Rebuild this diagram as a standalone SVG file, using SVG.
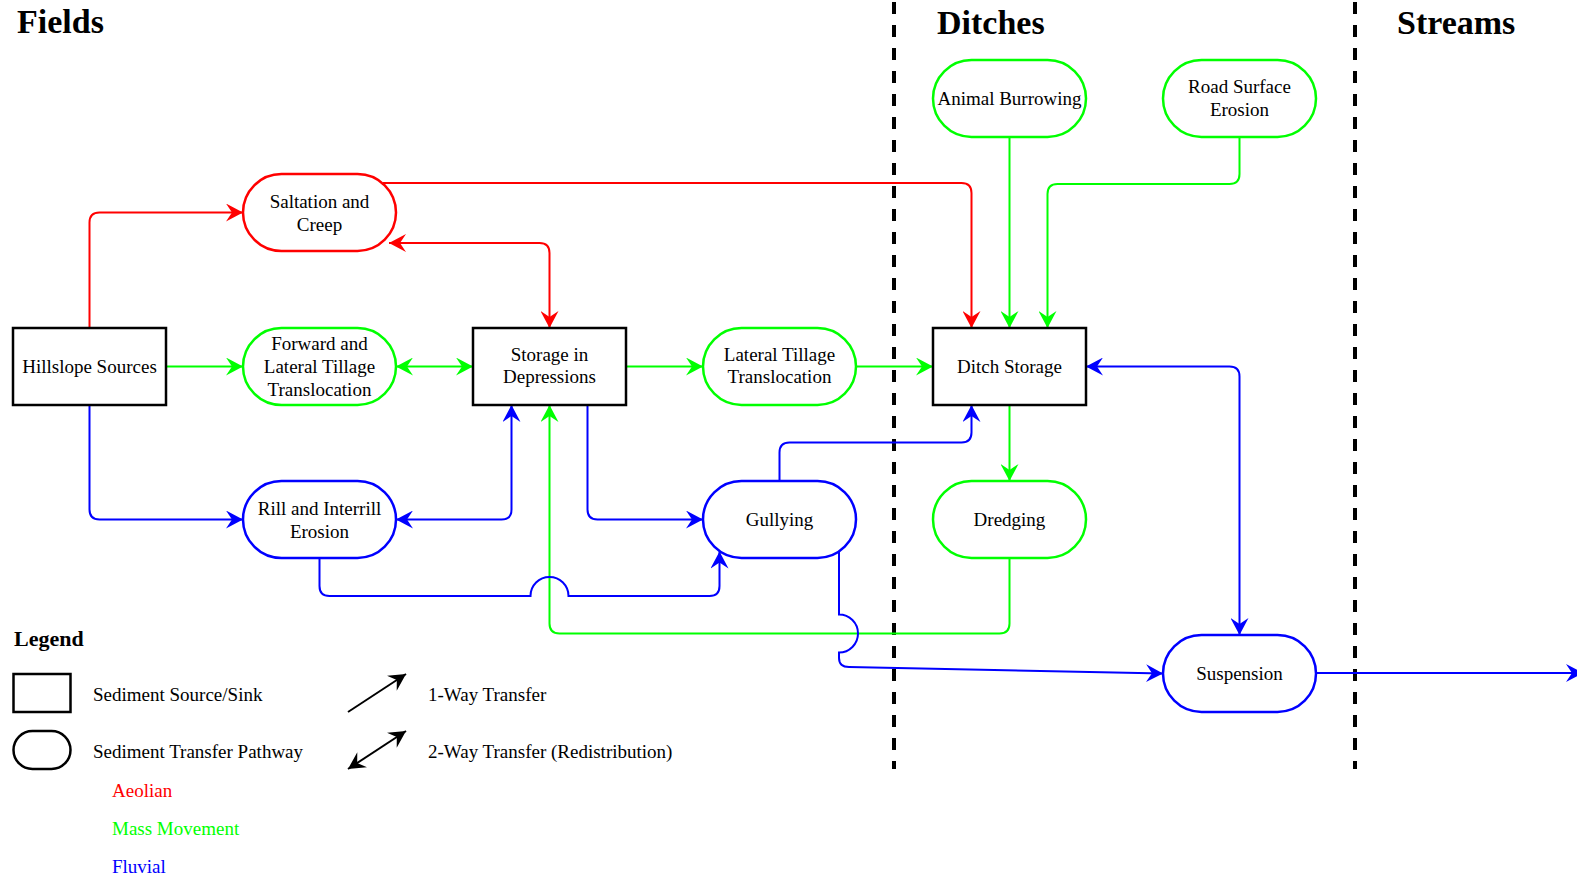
<svg xmlns="http://www.w3.org/2000/svg" width="1577" height="879" viewBox="0 0 1577 879">
<style>
text{font-family:"Liberation Serif","Times New Roman",serif;font-size:19px;fill:#000}
.c{text-anchor:middle}
.h{font-weight:bold;font-size:34px}
.box{fill:#fff;stroke:#000;stroke-width:2.5}
.r{fill:#fff;stroke:#f00;stroke-width:2.5}
.g{fill:#fff;stroke:#0f0;stroke-width:2.5}
.b{fill:#fff;stroke:#00f;stroke-width:2.5}
.er{fill:none;stroke:#f00;stroke-width:2;marker-end:url(#ar)}
.eg{fill:none;stroke:#0f0;stroke-width:2;marker-end:url(#ag)}
.eb{fill:none;stroke:#00f;stroke-width:2;marker-end:url(#ab)}
.dr{marker-start:url(#ar)}
.dg{marker-start:url(#ag)}
.db{marker-start:url(#ab)}
.dash{stroke:#000;stroke-width:4;stroke-dasharray:12 11}
</style>
<defs>
<marker id="ar" markerUnits="userSpaceOnUse" markerWidth="18" markerHeight="18" refX="17" refY="9" orient="auto-start-reverse"><path d="M0,0 L17,9 L0,18 L6,9 Z" fill="#f00"/></marker>
<marker id="ag" markerUnits="userSpaceOnUse" markerWidth="18" markerHeight="18" refX="17" refY="9" orient="auto-start-reverse"><path d="M0,0 L17,9 L0,18 L6,9 Z" fill="#0f0"/></marker>
<marker id="ab" markerUnits="userSpaceOnUse" markerWidth="18" markerHeight="18" refX="17" refY="9" orient="auto-start-reverse"><path d="M0,0 L17,9 L0,18 L6,9 Z" fill="#00f"/></marker>
<marker id="ak" markerUnits="userSpaceOnUse" markerWidth="18" markerHeight="18" refX="17" refY="9" orient="auto-start-reverse"><path d="M0,0 L17,9 L0,18 L6,9 Z" fill="#000"/></marker>
</defs>
<rect width="1577" height="879" fill="#fff"/>

<g id="headings">
<text class="h" x="17" y="33">Fields</text>
<text class="h" x="937" y="34">Ditches</text>
<text class="h" x="1397" y="34">Streams</text>
</g>

<g id="dividers">
<line class="dash" x1="894" y1="2" x2="894" y2="769"/>
<line class="dash" x1="1355" y1="2" x2="1355" y2="769"/>
</g>

<g id="connectors">
<path class="er" d="M89.5,328 L89.5,222.5 Q89.5,212.5 99.5,212.5 L243,212.5"/>
<path class="er" d="M383,183 L961.5,183 Q971.5,183 971.5,193 L971.5,328"/>
<path class="er dr" d="M549.5,328 L549.5,253 Q549.5,243 539.5,243 L389,243"/>
<path class="eg" d="M167,366.5 L243,366.5"/>
<path class="eg dg" d="M396,366.5 L473,366.5"/>
<path class="eg" d="M626,366.5 L703,366.5"/>
<path class="eg" d="M856,366.5 L933,366.5"/>
<path class="eg" d="M1009.5,137 L1009.5,328"/>
<path class="eg" d="M1239.5,137 L1239.5,174 Q1239.5,184 1229.5,184 L1057.5,184 Q1047.5,184 1047.5,194 L1047.5,328"/>
<path class="eg" d="M1009.5,405 L1009.5,481"/>
<path class="eg" d="M1009.5,558 L1009.5,623.5 Q1009.5,633.5 999.5,633.5 L559.5,633.5 Q549.5,633.5 549.5,623.5 L549.5,405"/>
<path class="eb" d="M89.5,405 L89.5,509.5 Q89.5,519.5 99.5,519.5 L243,519.5"/>
<path class="eb db" d="M511.5,405 L511.5,509.5 Q511.5,519.5 501.5,519.5 L396,519.5"/>
<path class="eb" d="M587.5,405 L587.5,509.5 Q587.5,519.5 597.5,519.5 L703,519.5"/>
<path class="eb" d="M319.5,558 L319.5,586 Q319.5,596 329.5,596 L530.5,596 A19,19 0 0 1 568.5,596 L709.5,596 Q719.5,596 719.5,586 L719.5,551.5"/>
<path class="eb" d="M779.5,481 L779.5,452.5 Q779.5,442.5 789.5,442.5 L961.5,442.5 Q971.5,442.5 971.5,432.5 L971.5,405"/>
<path class="eb" d="M839,551.4 L839,614.5 A19,19 0 0 1 839,652.5 L839,658 Q839,667 849,667 L1163,673.5"/>
<path class="eb db" d="M1086,366.5 L1229.5,366.5 Q1239.5,366.5 1239.5,376.5 L1239.5,635"/>
<path class="eb" d="M1316,673 L1583,673"/>
</g>

<g id="hillslope-sources">
<rect class="box" x="13" y="328" width="153" height="77"/>
<text class="c" x="89.5" y="373">Hillslope Sources</text>
</g>
<g id="saltation-creep">
<rect class="r" x="243" y="174" width="153" height="77" rx="38.5"/>
<text class="c" x="319.5" y="208">Saltation and</text>
<text class="c" x="319.5" y="231">Creep</text>
</g>
<g id="forward-lateral-tillage">
<rect class="g" x="243" y="328" width="153" height="77" rx="38.5"/>
<text class="c" x="319.5" y="350">Forward and</text>
<text class="c" x="319.5" y="373">Lateral Tillage</text>
<text class="c" x="319.5" y="395.5">Translocation</text>
</g>
<g id="storage-depressions">
<rect class="box" x="473" y="328" width="153" height="77"/>
<text class="c" x="549.5" y="361">Storage in</text>
<text class="c" x="549.5" y="383">Depressions</text>
</g>
<g id="lateral-tillage">
<rect class="g" x="703" y="328" width="153" height="77" rx="38.5"/>
<text class="c" x="779.5" y="361">Lateral Tillage</text>
<text class="c" x="779.5" y="383">Translocation</text>
</g>
<g id="ditch-storage">
<rect class="box" x="933" y="328" width="153" height="77"/>
<text class="c" x="1009.5" y="373">Ditch Storage</text>
</g>
<g id="animal-burrowing">
<rect class="g" x="933" y="60" width="153" height="77" rx="38.5"/>
<text class="c" x="1009.5" y="105">Animal Burrowing</text>
</g>
<g id="road-surface-erosion">
<rect class="g" x="1163" y="60" width="153" height="77" rx="38.5"/>
<text class="c" x="1239.5" y="93">Road Surface</text>
<text class="c" x="1239.5" y="116">Erosion</text>
</g>
<g id="rill-interrill">
<rect class="b" x="243" y="481" width="153" height="77" rx="38.5"/>
<text class="c" x="319.5" y="515">Rill and Interrill</text>
<text class="c" x="319.5" y="538">Erosion</text>
</g>
<g id="gullying">
<rect class="b" x="703" y="481" width="153" height="77" rx="38.5"/>
<text class="c" x="779.5" y="526">Gullying</text>
</g>
<g id="dredging">
<rect class="g" x="933" y="481" width="153" height="77" rx="38.5"/>
<text class="c" x="1009.5" y="526">Dredging</text>
</g>
<g id="suspension">
<rect class="b" x="1163" y="635" width="153" height="77" rx="38.5"/>
<text class="c" x="1239.5" y="680">Suspension</text>
</g>

<g id="legend">
<text x="14" y="646" style="font-weight:bold;font-size:22px">Legend</text>
<rect class="box" x="13.5" y="674" width="57" height="38"/>
<rect class="box" x="13.5" y="731" width="57" height="38" rx="19"/>
<text x="93" y="701">Sediment Source/Sink</text>
<text x="93" y="758">Sediment Transfer Pathway</text>
<text x="112" y="797" style="fill:#f00">Aeolian</text>
<text x="112" y="835" style="fill:#0f0">Mass Movement</text>
<text x="112" y="873" style="fill:#00f">Fluvial</text>
<path d="M348,712 L406,674" fill="none" stroke="#000" stroke-width="2" marker-end="url(#ak)"/>
<path d="M348,769 L406,731" fill="none" stroke="#000" stroke-width="2" marker-start="url(#ak)" marker-end="url(#ak)"/>
<text x="428" y="701">1-Way Transfer</text>
<text x="428" y="758">2-Way Transfer (Redistribution)</text>
</g>
</svg>
